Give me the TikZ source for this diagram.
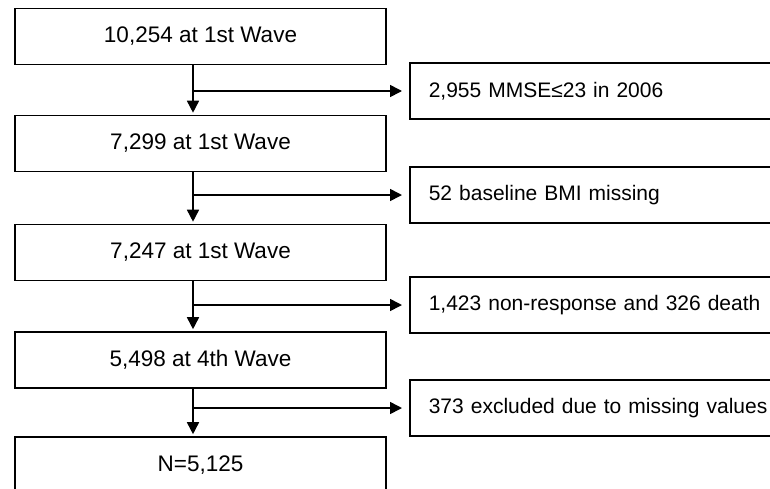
\documentclass[tikz,border=0pt]{standalone}
\usepackage{fontspec}
\setmainfont{Liberation Sans}
\usetikzlibrary{arrows.meta}
\begin{document}
\begin{tikzpicture}[x=1pt,y=-1pt,
    stagebox/.style={draw, line width=1.6pt, minimum width=371pt, minimum height=56pt, font=\fontsize{22.5}{27}\selectfont},
    outbox/.style={draw, line width=1.6pt, anchor=west, minimum height=56pt, text width=370pt, inner xsep=19pt, align=left, font=\fontsize{21}{25}\selectfont},
    flow/.style={line width=1.6pt, -{Triangle[length=12pt,width=12pt]}}]
    \useasboundingbox (0,0) rectangle (770,488);

    \node[stagebox] (b1) at (200.5,36.5) {10,254 at 1st Wave};
    \node[stagebox] (b2) at (200.5,143.5) {7,299 at 1st Wave};
    \node[stagebox] (b3) at (200.5,252.5) {7,247 at 1st Wave};
    \node[stagebox] (b4) at (200.5,360) {5,498 at 4th Wave};
    \node[stagebox] (b5) at (200.5,465) {N=5,125};

    \node[outbox] (r1) at (409,91) {2,955 MMSE≤23 in 2006};
    \node[outbox] (r2) at (409,195) {52 baseline BMI missing};
    \node[outbox] (r3) at (409,305) {1,423 non-response and 326 death};
    \node[outbox] (r4) at (409,408) {373 excluded due to missing values};

    \foreach \a/\b/\r in {b1/b2/r1, b2/b3/r2, b3/b4/r3, b4/b5/r4} {
        \draw[flow, shorten >=2pt] ([xshift=-7.5pt]\a.south) -- ([xshift=-7.5pt]\b.north);
        \coordinate (j\r) at ([xshift=-7.5pt]\a.south |- \r.west);
        \draw[flow, shorten >=7pt] (j\r) -- (\r.west);
    }
\end{tikzpicture}
\end{document}
